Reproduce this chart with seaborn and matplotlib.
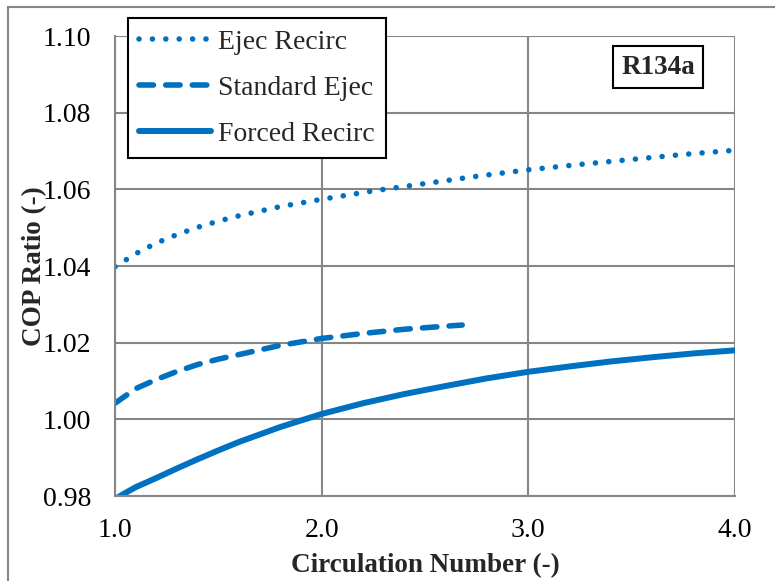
import matplotlib
matplotlib.use("Agg")
import matplotlib.pyplot as plt
import seaborn as sns
import numpy as np
import pandas as pd
from matplotlib.patches import Rectangle
from matplotlib.lines import Line2D
from matplotlib.ticker import MultipleLocator, FormatStrFormatter

# ---- data ----
ejec_x = [1.0, 1.1, 1.2, 1.3, 1.4, 1.5, 1.6, 1.8, 2.0, 2.25, 2.5, 2.75, 3.0, 3.25, 3.5, 3.75, 4.0]
ejec_y = [1.0398, 1.0432, 1.0460, 1.0482, 1.0501, 1.0517, 1.0531, 1.0555, 1.0574, 1.0596, 1.0615,
          1.0634, 1.0651, 1.0665, 1.0678, 1.0691, 1.0702]

std_x = [1.0, 1.1, 1.2, 1.3, 1.4, 1.5, 1.6, 1.8, 2.0, 2.2, 2.4, 2.6, 2.68]
std_y = [1.0042, 1.0080, 1.0104, 1.0125, 1.0143, 1.0157, 1.0169, 1.0193, 1.0211, 1.0224, 1.0235,
         1.0243, 1.0246]

forced_x = [1.0, 1.05, 1.1, 1.15, 1.2, 1.3, 1.4, 1.5, 1.6, 1.8, 2.0, 2.2, 2.4, 2.6, 2.8, 3.0, 3.2,
            3.4, 3.6, 3.8, 4.0]
forced_y = [0.9792, 0.9808, 0.9823, 0.9835, 0.9847, 0.9872, 0.9896, 0.9919, 0.9941, 0.9980, 1.0014,
            1.0042, 1.0066, 1.0087, 1.0107, 1.0124, 1.0138, 1.0151, 1.0162, 1.0172, 1.0180]

series_labels = ["Ejec Recirc", "Standard Ejec", "Forced Recirc"]
x_ticks = [1.0, 2.0, 3.0, 4.0]
y_ticks = [0.98, 1.00, 1.02, 1.04, 1.06, 1.08, 1.10]
x_label = "Circulation Number (-)"
y_label = "COP Ratio (-)"
tag = "R134a"

# ---- style ----
sns.set_style("white")
plt.rcParams["font.family"] = ["Liberation Serif", "DejaVu Serif"]

BLUE = "#0070C0"
GRID = "#868686"
W, H = 775, 581
fig = plt.figure(figsize=(W / 100, H / 100), dpi=100)
ax = fig.add_axes([115 / W, 1 - 496 / H, (735 - 115) / W, (496 - 36) / H])

dotted = (0, (0.01, 2.4))
dashed = (0, (2.6, 2.2))
LW_DOT, LW_DASH, LW_SOLID = 4.0, 4.0, 4.3

sns.lineplot(x=ejec_x, y=ejec_y, ax=ax, color=BLUE, lw=LW_DOT, linestyle=dotted,
             dash_capstyle="round", label=series_labels[0], legend=False)
sns.lineplot(x=std_x, y=std_y, ax=ax, color=BLUE, lw=LW_DASH, linestyle=dashed,
             dash_capstyle="round", label=series_labels[1], legend=False)
sns.lineplot(x=forced_x, y=forced_y, ax=ax, color=BLUE, lw=LW_SOLID, linestyle="-",
             solid_capstyle="butt", label=series_labels[2], legend=False)

ax.set_xlim(1.0, 4.0)
ax.set_ylim(0.98, 1.10)
ax.set_xticks(x_ticks)
ax.set_yticks(y_ticks)
ax.xaxis.set_major_formatter(FormatStrFormatter("%.1f"))
ax.yaxis.set_major_formatter(FormatStrFormatter("%.2f"))
ax.xaxis.set_minor_locator(MultipleLocator(0.2))
ax.yaxis.set_minor_locator(MultipleLocator(0.005))

ax.grid(True, which="major", color=GRID, lw=1.5)
ax.grid(False, which="minor")
ax.set_axisbelow(True)
for s in ["top", "right"]:
    ax.spines[s].set_visible(False)
for s in ["left", "bottom"]:
    ax.spines[s].set_color(GRID)
    ax.spines[s].set_linewidth(1.5)

ax.tick_params(axis="both", which="major", direction="out", length=6, width=1.5,
               color=GRID, labelsize=20, labelcolor="black")
ax.tick_params(axis="y", which="major", pad=11)
ax.tick_params(axis="x", which="major", pad=10)
ax.tick_params(axis="both", which="minor", direction="in", length=5, width=1.5, color=GRID)

ax.set_xlabel(x_label, fontsize=19.5, fontweight="bold", labelpad=7)
ax.set_ylabel(y_label, fontsize=19.5, fontweight="bold", labelpad=-3)

# legend
handles = [
    Line2D([], [], color=BLUE, lw=LW_DOT, linestyle=dotted, dash_capstyle="round"),
    Line2D([], [], color=BLUE, lw=LW_DASH, linestyle=dashed, dash_capstyle="round"),
    Line2D([], [], color=BLUE, lw=LW_SOLID, linestyle="-"),
]
leg = fig.legend(handles, series_labels, loc="upper left",
                 bbox_to_anchor=(128 / W, 1 - 18 / H), bbox_transform=fig.transFigure,
                 fontsize=20, frameon=True, fancybox=False, framealpha=1,
                 edgecolor="black", handlelength=2.6, handletextpad=0.25,
                 labelspacing=0.75, borderpad=0.4, borderaxespad=0)
leg.get_frame().set_linewidth(1.5)

# tag box
fig.text(658 / W, 1 - 67 / H, tag, fontsize=19.5, fontweight="bold", ha="center", va="center",
         bbox=dict(boxstyle="square,pad=0.3", facecolor="white", edgecolor="black", lw=1.5))

# outer chart border
fig.patches.append(Rectangle((8 / W, -0.1), 2.0, 1 - 7 / H + 0.1, transform=fig.transFigure,
                             fill=False, edgecolor=GRID, lw=1.5, zorder=0))

fig.savefig("out.png", dpi=100)
